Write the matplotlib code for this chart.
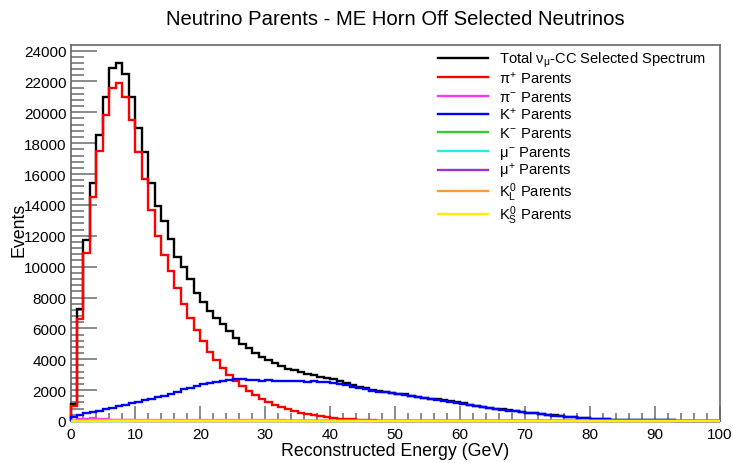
import numpy as np
import matplotlib
matplotlib.use("Agg")
import matplotlib.pyplot as plt
from matplotlib.ticker import MultipleLocator
from matplotlib.lines import Line2D

plt.rcParams['font.family'] = ['Liberation Sans', 'DejaVu Sans']
plt.rcParams['mathtext.fontset'] = 'custom'
plt.rcParams['mathtext.rm'] = 'Liberation Sans'
plt.rcParams['mathtext.it'] = 'Liberation Sans'
plt.rcParams['mathtext.bf'] = 'Liberation Sans:bold'

# ---- data (1 GeV bins, 0-100 GeV) ----
edges = np.arange(0, 101, 1)

total = [1100, 7250, 11700, 15400, 18500, 21000, 22900, 23200, 22500, 21000,
         19000, 17400, 15450, 13900, 12950, 11800, 10650, 10000, 9230, 8300,
         7700, 7150, 6700, 6280, 5850, 5400, 5000, 4700, 4400, 4150,
         3950, 3750, 3580, 3400, 3300, 3170, 3020, 2960, 2860, 2780,
         2700, 2600, 2480, 2340, 2220, 2130, 2010, 1940, 1880, 1820,
         1780, 1720, 1640, 1580, 1500, 1450, 1400, 1340, 1270, 1200,
         1140, 1065, 995, 915, 835, 800, 755, 695, 635, 590,
         550, 510, 450, 410, 360, 320, 288, 248, 206, 175,
         145, 124, 104, 93, 83, 77, 72, 62, 52, 46,
         41, 39, 36, 31, 31, 26, 21, 0, 0, 0]

pip = [950, 6600, 10900, 14500, 17500, 19800, 21600, 21900, 21000, 19500,
       17400, 15700, 13700, 12000, 10750, 9700, 8600, 7600, 6700, 5900,
       5200, 4500, 3950, 3450, 3000, 2600, 2250, 1950, 1700, 1450,
       1250, 1050, 900, 760, 640, 540, 450, 380, 310, 250,
       200, 160, 130, 100, 80, 60, 45, 20] + [0] * 52

kp = [250, 400, 500, 580, 680, 780, 850, 950, 1050, 1150,
      1250, 1350, 1450, 1550, 1650, 1780, 1900, 2050, 2150, 2280,
      2380, 2470, 2520, 2580, 2650, 2700, 2720, 2680, 2650, 2620,
      2640, 2600, 2620, 2580, 2560, 2600, 2550, 2560, 2530, 2510,
      2480, 2420, 2330, 2220, 2120, 2050, 1950, 1900, 1850, 1800,
      1760, 1700, 1620, 1560, 1480, 1430, 1380, 1320, 1250, 1180,
      1120, 1050, 980, 900, 820, 780, 740, 680, 620, 580,
      540, 500, 440, 400, 350, 310, 280, 240, 200, 170,
      140, 120, 100, 90, 80, 75, 70, 60, 50, 45,
      40, 38, 35, 30, 30, 25, 20, 0, 0, 0]

pim = [20, 120, 160, 170, 150, 120, 90, 70, 50, 40,
       30, 25, 20, 15, 12, 10, 8, 6, 4, 2] + [0] * 80

km = [2, 5, 6, 6, 5, 5, 4, 4, 3, 3, 2, 2, 2, 1, 1] + [0] * 85

mum = [1, 3, 4, 4, 3, 3, 2, 2, 1, 1] + [0] * 90

mup = [2, 6, 8, 8, 7, 6, 5, 4, 3, 2, 2, 1, 1] + [0] * 87

k0l = [5, 15, 25, 35, 45, 55, 60, 65, 70, 70,
       72, 72, 72, 70, 70, 68, 66, 64, 62, 60,
       58, 56, 54, 52, 50, 48, 46, 44, 42, 40,
       38, 36, 34, 32, 30, 28, 26, 24, 22, 20,
       18, 16, 14, 12, 10, 8, 6, 4] + [0] * 52

k0s = [5, 10, 12, 14, 15, 15, 15, 15, 14, 14,
       13, 13, 12, 12, 11, 11, 10, 10, 9, 9,
       8, 8, 7, 7, 6, 6, 5, 5, 4, 4] + [0] * 70

series = [
    (total, 'black', r'Total $\nu_{\mu}$-CC Selected Spectrum'),
    (pip, '#ff0000', r'$\pi^{+}$ Parents'),
    (pim, '#ff33ff', r'$\pi^{-}$ Parents'),
    (kp, '#0000ff', r'$K^{+}$ Parents'),
    (km, '#33cc33', r'$K^{-}$ Parents'),
    (mum, '#22eeee', r'$\mu^{-}$ Parents'),
    (mup, '#9933cc', r'$\mu^{+}$ Parents'),
    (k0l, '#ff9933', r'$K^{0}_{L}$ Parents'),
    (k0s, '#ffee00', r'$K^{0}_{S}$ Parents'),
]

W, H = 733, 464
L, R, T, B = 70.5, 720, 46, 422

fig = plt.figure(figsize=(W / 100, H / 100), dpi=100)
ax = fig.add_axes([L / W, 1 - B / H, (R - L) / W, (B - T) / H])

for vals, col, lab in series:
    ax.stairs(vals, edges, baseline=0, color=col, lw=1.7, label=lab,
              clip_on=False, zorder=3)

ax.set_xlim(0, 100)
ax.set_ylim(0, max(total) * 1.05)

ax.xaxis.set_major_locator(MultipleLocator(10))
ax.xaxis.set_minor_locator(MultipleLocator(2))
ax.yaxis.set_major_locator(MultipleLocator(2000))
ax.yaxis.set_minor_locator(MultipleLocator(400))

ax.tick_params(axis='both', which='both', direction='in', colors='#777777',
               labelcolor='black', labelsize=11)
ax.tick_params(axis='x', which='major', length=11, width=1.2, pad=4)
ax.tick_params(axis='x', which='minor', length=6, width=1.2)
ax.tick_params(axis='y', which='major', length=19, width=1.2, pad=3)
ax.tick_params(axis='y', which='minor', length=9, width=1.2)

for s in ax.spines.values():
    s.set_color('#666666')
    s.set_linewidth(1.2)

ax.set_xlabel('Reconstructed Energy (GeV)', fontsize=12.8, labelpad=1)
ax.set_ylabel('Events', fontsize=12.8)
ax.yaxis.set_label_coords((28 - L) / (R - L), 0.51)
fig.suptitle('Neutrino Parents - ME Horn Off Selected Neutrinos',
             x=(L + R) / 2 / W, y=1 - 19.5 / H, va='center', fontsize=14.6)

# legend (top-right, no frame), drawn row by row; rows are nudged so that
# the text boxes never overlap
row0, pitch = 58.5, 18.3
renderer = fig.canvas.get_renderer()
prev_bottom = None  # in pixels from the top
yc_px = row0
for i, (vals, col, lab) in enumerate(series):
    if i > 0:
        yc_px = max(yc_px + pitch, yc_px)
    txt = fig.text(499 / W, 1 - (yc_px + 5) / H, lab, fontsize=10.6,
                   va='baseline', ha='left')
    bb = txt.get_window_extent(renderer)
    top_px = H - bb.y1
    if prev_bottom is not None and top_px < prev_bottom + 0.5:
        yc_px += prev_bottom + 0.5 - top_px
        txt.set_y(1 - (yc_px + 5) / H)
        bb = txt.get_window_extent(renderer)
    prev_bottom = H - bb.y0
    yc = 1 - yc_px / H
    fig.add_artist(Line2D([438 / W, 488 / W], [yc, yc], color=col, lw=1.7,
                          transform=fig.transFigure))

fig.savefig('out.png', dpi=100)
